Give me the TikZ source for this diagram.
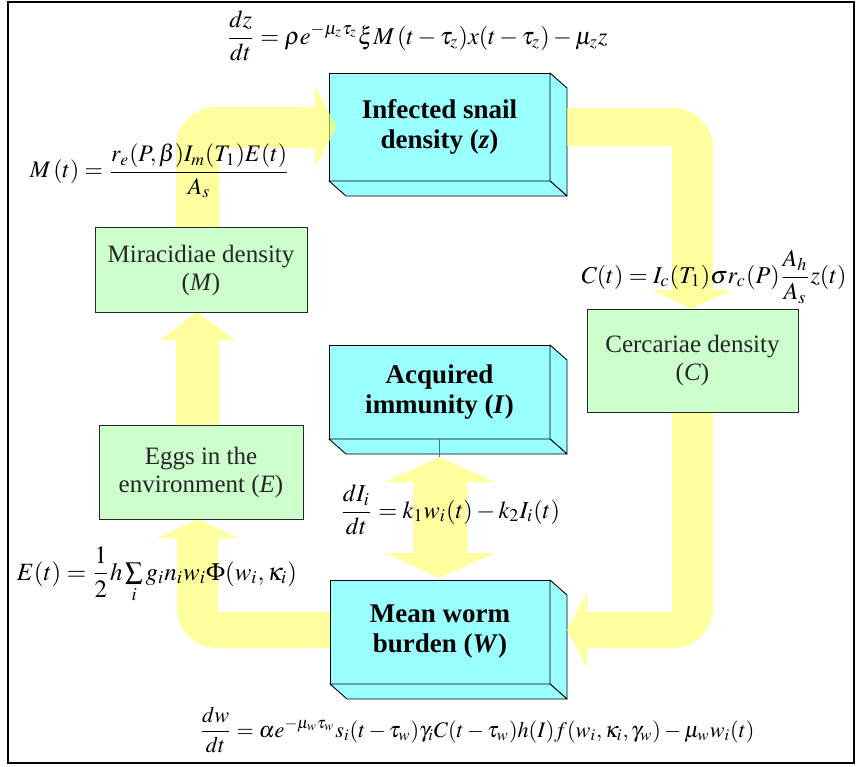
\documentclass[tikz,border=0pt]{standalone}
\usepackage{mathptmx}
\usepackage{fontspec}
\setmainfont{Liberation Serif}
\usepackage{graphicx}
\definecolor{cub}{HTML}{99FFFF}
\definecolor{grn}{HTML}{CCFFCC}
\definecolor{yel}{HTML}{FFFF66}
\definecolor{lnk}{HTML}{4A6FA5}
\tikzset{
 cube/.style={draw=black, line width=0.9pt, fill=cub, inner sep=0pt, outer sep=0pt, align=center, font=\fontsize{27}{30}\selectfont\bfseries},
 face/.style={fill=cub, draw=black, line width=0.9pt, line join=round},
 gbox/.style={draw=black!85, line width=1pt, fill=grn, inner sep=0pt, outer sep=0pt, align=center, font=\fontsize{25}{28}\selectfont, text=black!85},
 yarrow/.style={fill=yel, fill opacity=0.62},
 eq/.style={inner sep=0pt},
}
\newcommand{\fitw}[2]{\resizebox{#1pt}{!}{$\displaystyle #2$}}
\newcommand{\cubefaces}[1]{%
 \filldraw[face] (#1.north east) -- ++(17,15) -- ([shift={(17,15)}]#1.south east) -- (#1.south east) -- cycle;
 \filldraw[face] (#1.south west) -- ++(17,15) -- ([shift={(17,15)}]#1.south east) -- (#1.south east) -- cycle;}
\begin{document}
\begin{tikzpicture}[x=1pt,y=-1pt]
\useasboundingbox (0,0) rectangle (859,767);
\fill[white] (0,0) rectangle (859,767);
\draw[line width=2.5pt] (8,2) rectangle (854,763);

% 3D boxes
\node[cube, minimum width=221pt, minimum height=108pt] (snail) at (439.5,127) {Infected snail\\density (\textit{z})};
\cubefaces{snail}
\node[cube, minimum width=221pt, minimum height=94pt] (imm) at (439.5,392) {Acquired\\immunity (\textit{I})};
\cubefaces{imm}
\node[cube, minimum width=220pt, minimum height=104pt] (worm) at (440,632) {Mean worm\\burden (\textit{W})};
\cubefaces{worm}

% block arrows
\fill[yarrow] (176,228) -- (176,147) arc[start angle=180,end angle=90,radius=40pt] -- (315,107) -- (315,87) -- (337,127) -- (315,167) -- (315,148) -- (219,148) -- (219,228) -- cycle;
\fill[yarrow] (567,108) -- (673,108) arc[start angle=90,end angle=0,radius=40pt] -- (713,290) -- (732,290) -- (692,309) -- (652,290) -- (672,290) -- (672,146) -- (567,146) -- cycle;
\fill[yarrow] (672,412) -- (672,612) -- (587,612) -- (587,592) -- (567,630) -- (587,667) -- (587,648) -- (673,648) arc[start angle=270,end angle=360,radius=40pt] -- (713,412) -- cycle;
\fill[yarrow] (330,612) -- (218,612) -- (218,538) -- (238,538) -- (198,519) -- (157,538) -- (177,538) -- (177,608) arc[start angle=180,end angle=270,radius=40pt] -- (330,648) -- cycle;
\fill[yarrow] (176,425) -- (176,340) -- (160,340) -- (197,312) -- (235,340) -- (219,340) -- (219,425) -- cycle;
\fill[yarrow] (413,482) -- (385,482) -- (439,457) -- (495,482) -- (467,482) -- (467,553) -- (495,553) -- (439,578) -- (385,553) -- (413,553) -- cycle;
\draw[lnk, line width=0.8pt] (imm.south) -- ++(0,18);

% green boxes
\node[gbox, minimum width=212pt, minimum height=84pt] (mir) at (201,270) {Miracidiae density\\(\textit{M})};
\node[gbox, minimum width=204pt, minimum height=94pt] (egg) at (201,472) {Eggs in the\\environment (\textit{E})};
\node[gbox, minimum width=211pt, minimum height=103pt] (cer) at (692.5,360.5) {Cercariae density\\(\textit{C})};

% formulas
\node[eq] (fz) at (417,36) {\fitw{381}{\frac{dz}{dt}=\rho e^{-\mu_z\tau_z}\xi M\,(t-\tau_z)x(t-\tau_z)-\mu_z z}};
\node[eq] (fm) at (160,171) {\fitw{260}{M\,(t)=\frac{r_e(P,\beta)I_m(T_1)E(t)}{A_s}}};
\node[eq] (fc) at (714,277) {\fitw{265}{C(t)=I_c(T_1)\sigma r_c(P)\frac{A_h}{A_s}z(t)}};
\node[eq] (fi) at (450,510) {\fitw{220}{\frac{dI_i}{dt}=k_1w_i(t)-k_2I_i(t)}};
\node[eq] (fe) at (157,575) {\fitw{280}{E(t)=\frac12 h\textstyle\sum\limits_i g_in_iw_i\Phi(w_i,\kappa_i)}};
\node[eq] (fw) at (477,730) {\fitw{555}{\frac{dw}{dt}=\alpha e^{-\mu_w\tau_w}s_i(t-\tau_w)\gamma_iC(t-\tau_w)h(I)f(w_i,\kappa_i,\gamma_w)-\mu_ww_i(t)}};
\end{tikzpicture}
\end{document}
